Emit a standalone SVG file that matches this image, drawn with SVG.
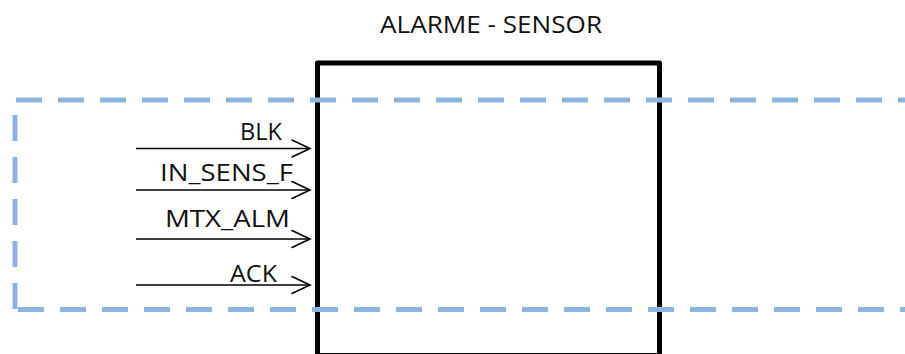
<svg xmlns="http://www.w3.org/2000/svg" width="905" height="354" viewBox="0 0 905 354">
  <style>
    .lbl { font-family: "Open Sans", "Liberation Sans", Arial, sans-serif; font-size: 23px; fill: #111111; }
    .title { font-size: 24px; }
    .frame { fill: none; stroke: #8db3e2; stroke-width: 5; stroke-dasharray: 26 16; }
    .block { fill: #ffffff; stroke: #000000; stroke-width: 5; stroke-linejoin: round; }
    .sig { stroke: #000000; stroke-width: 1.6; fill: none; }
    .head { stroke: #000000; stroke-width: 1.6; fill: none; stroke-linecap: round; }
  </style>

  <!-- sensor block -->
  <g id="alarme-sensor">
    <rect class="block" x="317.5" y="63" width="342" height="292.5"/>
    <text class="lbl title" x="380" y="33" textLength="222" lengthAdjust="spacingAndGlyphs">ALARME - SENSOR</text>
  </g>

  <!-- dashed boundary, open on the right -->
  <g id="boundary">
    <line class="frame" x1="16" y1="100" x2="910" y2="100"/>
    <line class="frame" x1="15" y1="115" x2="15" y2="309.5"/>
    <line class="frame" x1="18" y1="309.5" x2="910" y2="309.5"/>
  </g>

  <!-- input signals -->
  <g id="connectors">
    <g id="sig-blk">
      <line class="sig" x1="136" y1="148.5" x2="310" y2="148.5"/>
      <polyline class="head" points="292,140 310,148.5 292,157"/>
      <text class="lbl" x="240" y="140" textLength="42" lengthAdjust="spacingAndGlyphs">BLK</text>
    </g>
    <g id="sig-in-sens-f">
      <line class="sig" x1="136" y1="190" x2="310" y2="190"/>
      <polyline class="head" points="292,181.5 310,190 292,198.5"/>
      <text class="lbl" x="160" y="181" textLength="133" lengthAdjust="spacingAndGlyphs">IN_SENS_F</text>
    </g>
    <g id="sig-mtx-alm">
      <line class="sig" x1="136" y1="239" x2="310" y2="239"/>
      <polyline class="head" points="292,230.5 310,239 292,247.5"/>
      <text class="lbl" x="165" y="227" textLength="125" lengthAdjust="spacingAndGlyphs">MTX_ALM</text>
    </g>
    <g id="sig-ack">
      <line class="sig" x1="136" y1="285" x2="310" y2="285"/>
      <polyline class="head" points="292,276.5 310,285 292,293.5"/>
      <text class="lbl" x="230" y="281.5" textLength="47" lengthAdjust="spacingAndGlyphs">ACK</text>
    </g>
  </g>
</svg>
